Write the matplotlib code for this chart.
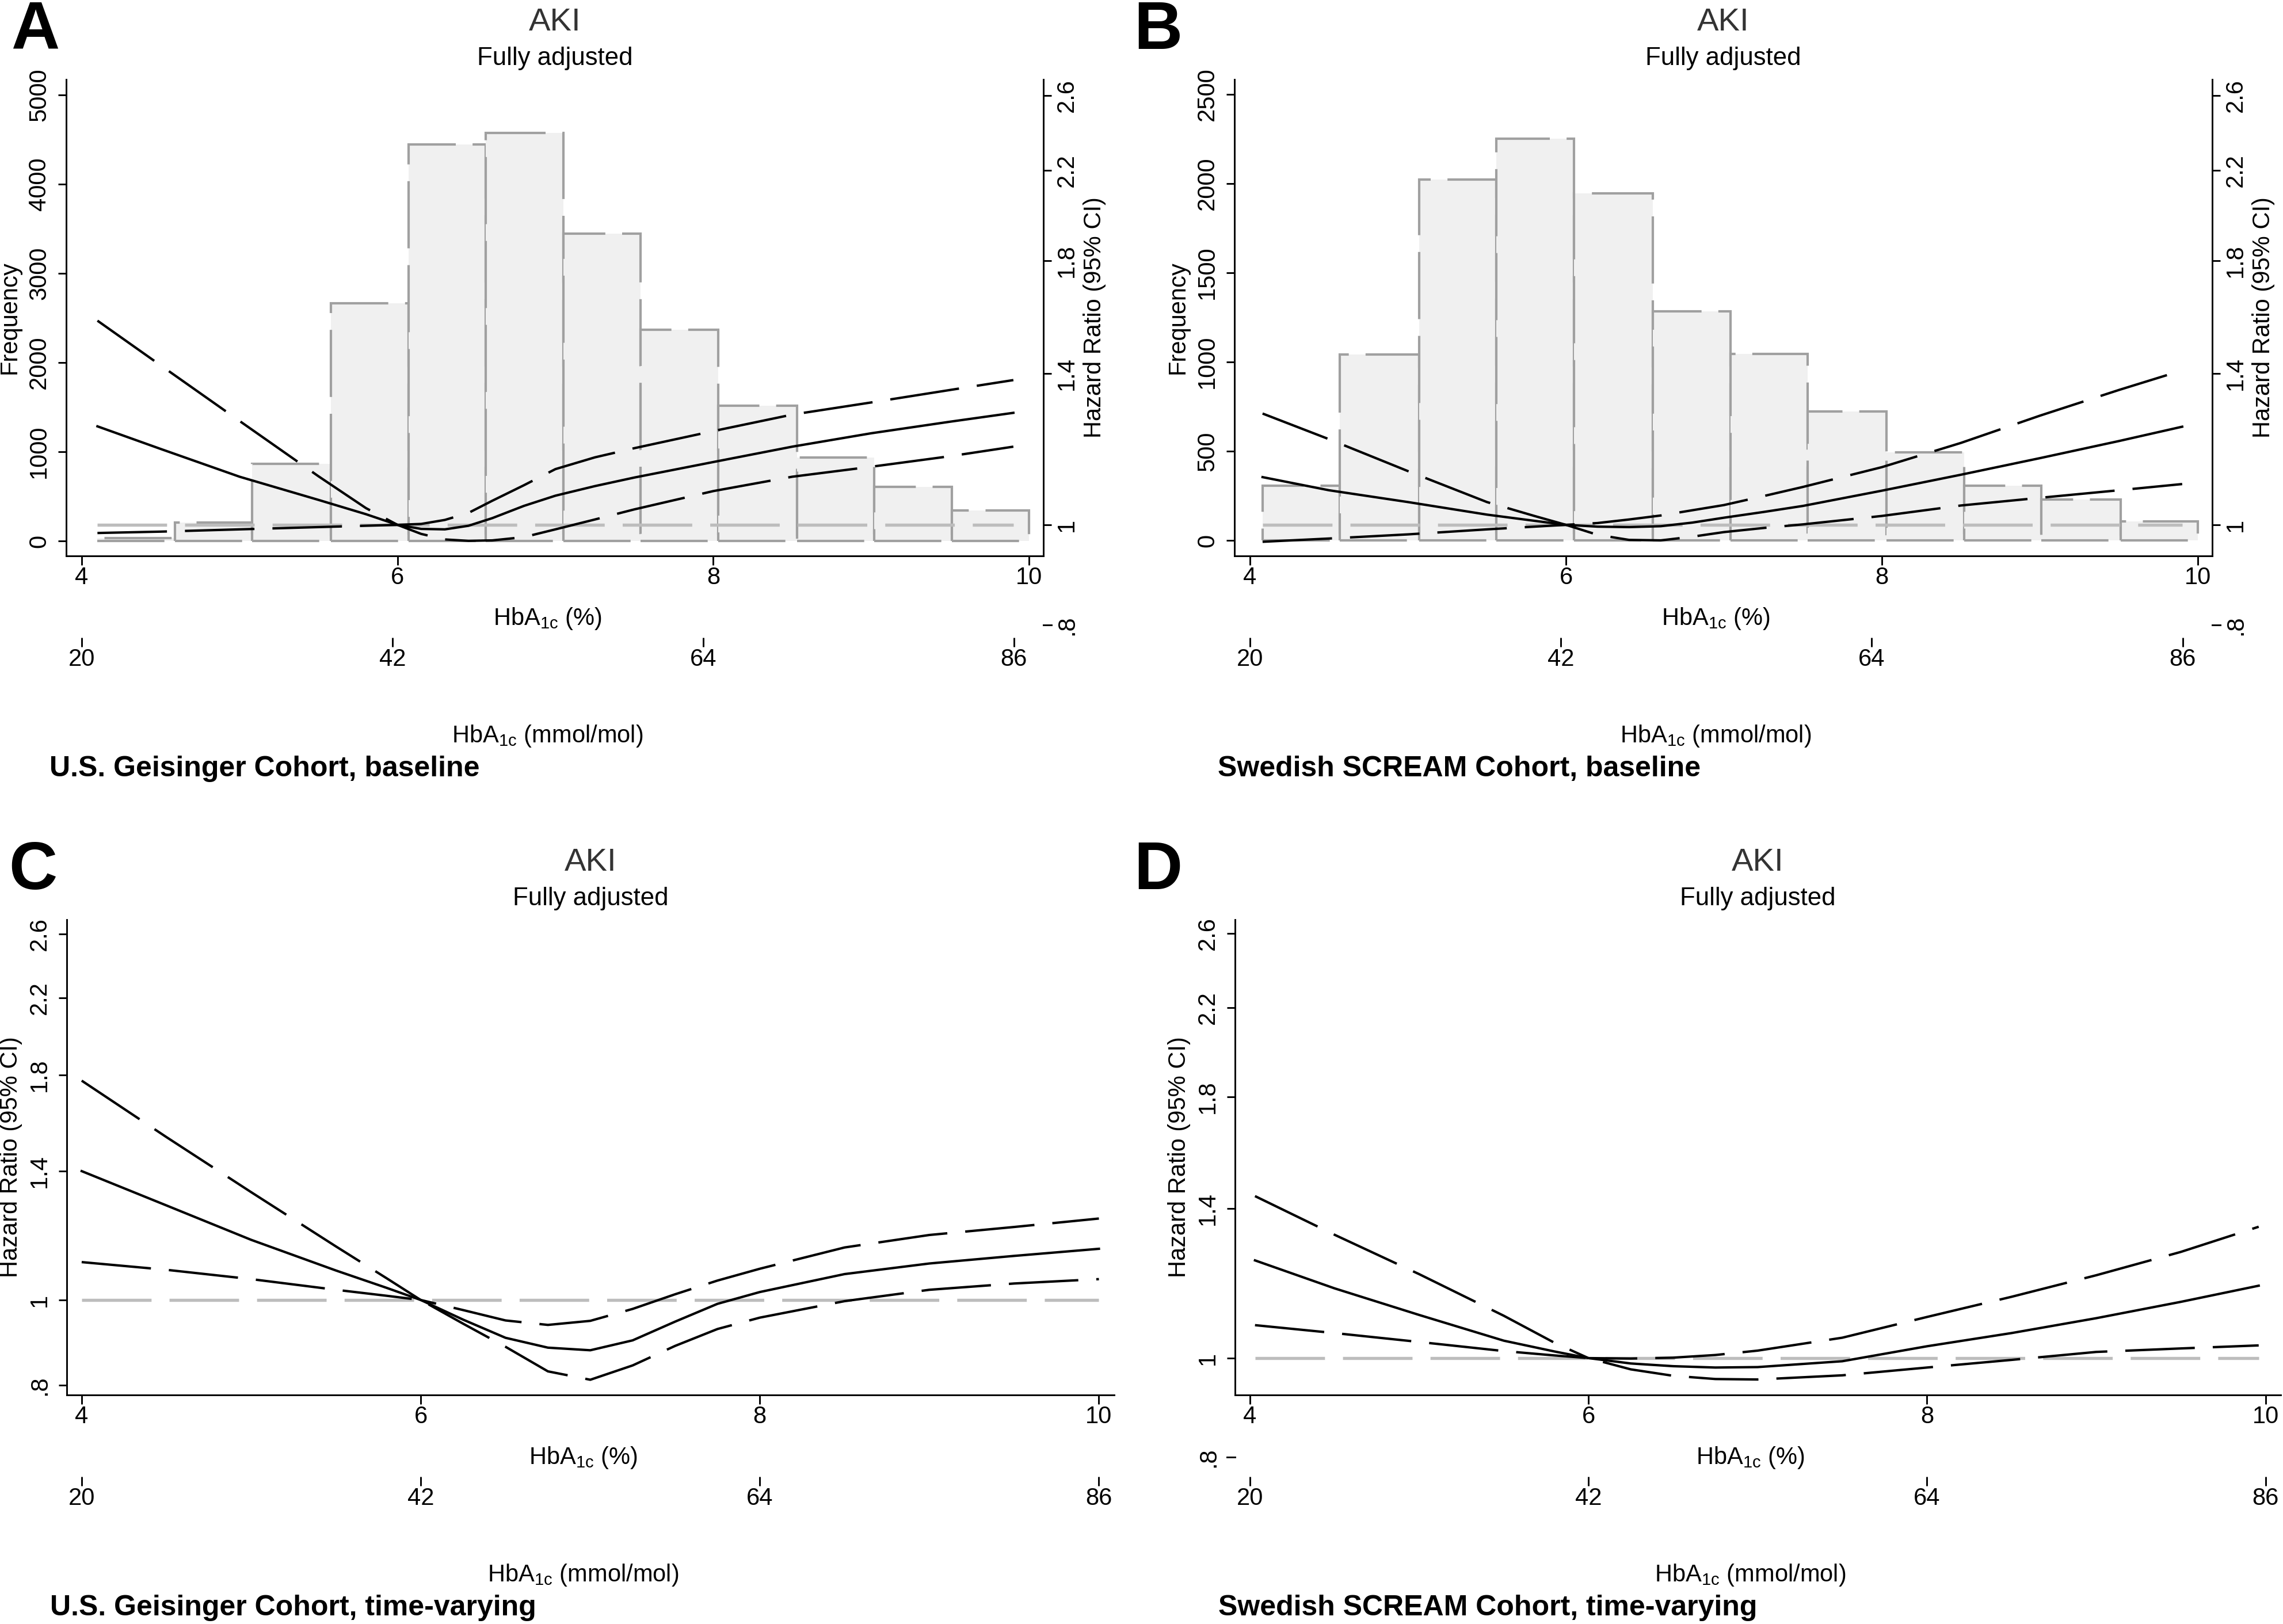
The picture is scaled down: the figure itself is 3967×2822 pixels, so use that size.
import numpy as np
import matplotlib
matplotlib.use('Agg')
import matplotlib.pyplot as plt

plt.rcParams['font.family'] = ['Liberation Sans', 'DejaVu Sans']
plt.rcParams['mathtext.default'] = 'regular'
plt.rcParams['lines.scale_dashes'] = False

# ---------------- values ----------------
hr_ticks = [0.8, 1, 1.4, 1.8, 2.2, 2.6]
hr_ticklabels = ['.8', '1', '1.4', '1.8', '2.2', '2.6']
pct_ticks = [4, 6, 8, 10]
mmol_ticks = [20, 42, 64, 86]

# A: U.S. Geisinger Cohort, baseline
a_edges = [4.10, 4.59, 5.08, 5.58, 6.07, 6.56, 7.05, 7.54, 8.03, 8.53, 9.02, 9.51, 10.0]
a_counts = [30, 209, 866, 2665, 4445, 4574, 3445, 2368, 1516, 935, 606, 339]
a_x = [4.1, 4.5, 5.0, 5.5, 5.8, 6.0, 6.15, 6.3, 6.45, 6.6, 6.8, 7.0, 7.25, 7.5, 8.0, 8.5, 9.0, 9.5, 9.9]
a_hr = [1.245, 1.184, 1.113, 1.057, 1.024, 1.0, 0.991, 0.99, 0.998, 1.015, 1.043, 1.067, 1.09, 1.111, 1.15, 1.19, 1.226, 1.258, 1.283]
a_hi = [1.575, 1.426, 1.26, 1.114, 1.038, 1.0, 1.002, 1.011, 1.027, 1.055, 1.092, 1.132, 1.162, 1.186, 1.232, 1.278, 1.313, 1.35, 1.38]
a_lo = [0.982, 0.985, 0.99, 0.995, 0.998, 1.0, 0.98, 0.968, 0.965, 0.966, 0.973, 0.99, 1.012, 1.035, 1.078, 1.113, 1.138, 1.165, 1.19]

# B: Swedish SCREAM Cohort, baseline
b_edges = [4.08, 4.57, 5.07, 5.56, 6.05, 6.55, 7.04, 7.53, 8.03, 8.52, 9.01, 9.51, 10.0]
b_counts = [306, 1042, 2023, 2253, 1945, 1285, 1045, 723, 494, 306, 229, 106]
b_x = [4.08, 4.5, 5.0, 5.5, 5.8, 6.0, 6.2, 6.4, 6.6, 6.8, 7.0, 7.25, 7.5, 8.0, 8.5, 9.0, 9.5, 9.9]
b_hr = [1.112, 1.08, 1.052, 1.023, 1.009, 1.0, 0.996, 0.995, 0.997, 1.005, 1.016, 1.029, 1.043, 1.079, 1.118, 1.16, 1.205, 1.244]
b_hi = [1.281, 1.21, 1.127, 1.052, 1.02, 1.0, 1.004, 1.012, 1.021, 1.033, 1.045, 1.066, 1.088, 1.137, 1.2, 1.275, 1.35, 1.41]
b_lo = [0.963, 0.97, 0.979, 0.99, 0.996, 1.0, 0.978, 0.967, 0.966, 0.974, 0.984, 0.993, 1.001, 1.02, 1.044, 1.062, 1.08, 1.095]

# C: U.S. Geisinger Cohort, time-varying
c_x = [4.0, 4.5, 5.0, 5.5, 5.8, 6.0, 6.25, 6.5, 6.75, 7.0, 7.25, 7.5, 7.75, 8.0, 8.5, 9.0, 9.5, 10.0]
c_hr = [1.40, 1.28, 1.17, 1.08, 1.032, 1.0, 0.95, 0.906, 0.883, 0.877, 0.9, 0.945, 0.99, 1.021, 1.07, 1.10, 1.122, 1.143]
c_hi = [1.773, 1.53, 1.325, 1.15, 1.058, 1.0, 0.974, 0.948, 0.937, 0.947, 0.977, 1.015, 1.052, 1.085, 1.147, 1.185, 1.21, 1.237]
c_lo = [1.104, 1.082, 1.056, 1.027, 1.011, 1.0, 0.94, 0.885, 0.83, 0.812, 0.843, 0.887, 0.927, 0.955, 0.997, 1.027, 1.044, 1.056]

# D: Swedish SCREAM Cohort, time-varying
d_x = [4.03, 4.5, 5.0, 5.5, 5.8, 6.0, 6.25, 6.5, 6.75, 7.0, 7.5, 8.0, 8.5, 9.0, 9.5, 9.96]
d_hr = [1.246, 1.17, 1.102, 1.04, 1.015, 1.0, 0.988, 0.982, 0.979, 0.98, 0.993, 1.027, 1.058, 1.094, 1.135, 1.177]
d_hi = [1.44, 1.32, 1.208, 1.10, 1.035, 1.0, 0.999, 1.001, 1.007, 1.017, 1.047, 1.097, 1.148, 1.205, 1.27, 1.344]
d_lo = [1.077, 1.058, 1.037, 1.016, 1.006, 1.0, 0.975, 0.961, 0.954, 0.953, 0.962, 0.979, 0.996, 1.014, 1.022, 1.029]

captions = ['U.S. Geisinger Cohort, baseline', 'Swedish SCREAM Cohort, baseline',
            'U.S. Geisinger Cohort, time-varying', 'Swedish SCREAM Cohort, time-varying']

# ---------------- layout (pixels of the 3967x2822 canvas) ----------------
W, H, DPI = 3967, 2822, 300
fig = plt.figure(figsize=(W / DPI, H / DPI), dpi=DPI)

DASH = (0, (29, 7.5))
TICKLEN_Y = 3.4
TICKLEN_X = 3.8
FS = 10


def rect(l, t, r, b):
    return [l / W, 1 - b / H, (r - l) / W, (b - t) / H]


def ftext(x, y, s, **kw):
    fig.text(x / W, 1 - y / H, s, **kw)


def draw_curves(ax, x, hr, lo, hi):
    ax.plot([x[0], x[-1]], [1, 1], color='#bdbdbd', lw=1.3, ls=DASH, zorder=2)
    ax.plot(x, hi, color='black', lw=1.0, ls=DASH, zorder=3)
    ax.plot(x, lo, color='black', lw=1.0, ls=DASH, zorder=3)
    ax.plot(x, hr, color='black', lw=1.0, zorder=3)


def setup_x(ax, xlim, hpx, scale):
    ax.set_xticks(pct_ticks)
    ax.set_xlim(*xlim)
    ax.tick_params(axis='x', length=TICKLEN_X, width=0.7, pad=0.5, labelsize=FS)
    sec = ax.secondary_xaxis(-142 / hpx, functions=(lambda p: 20 + scale * (p - 4),
                                                    lambda m: 4 + (m - 20) / scale))
    sec.set_xticks(mmol_ticks)
    sec.spines['bottom'].set_visible(False)
    sec.tick_params(axis='x', length=TICKLEN_X, width=0.7, pad=0.5, labelsize=FS)


def setup_hr(ax, ylim, side, wpx):
    ax.set_yscale('log')
    ax.set_yticks(hr_ticks, hr_ticklabels)
    ax.minorticks_off()
    ax.set_ylim(*ylim)
    pad = 1.7 if side == 'right' else 3.0
    ax.tick_params(axis='y', length=TICKLEN_Y, width=0.7, labelsize=FS, labelrotation=90, pad=pad)
    for lab in ax.get_yticklabels():
        lab.set_va('center')
    # Stata draws ticks that fall outside the plot region too
    lo, hi = ax.get_ylim()
    tr = ax.get_yaxis_transform()
    t = 14 / wpx
    for v, s in zip(hr_ticks, hr_ticklabels):
        if lo <= v <= hi:
            continue
        if side == 'right':
            ax.plot([1, 1 + t], [v, v], transform=tr, color='black', lw=0.7, clip_on=False)
            ax.text(1 + 21 / wpx, v, s, transform=tr, rotation=90, ha='left', va='center',
                    fontsize=FS, clip_on=False)
        else:
            ax.plot([-t, 0], [v, v], transform=tr, color='black', lw=0.7, clip_on=False)
            ax.text(-26 / wpx, v, s, transform=tr, rotation=90, ha='right', va='center',
                    fontsize=FS, clip_on=False)
    ax.set_ylim(*ylim)


def labels(l, t, r, b, letter, letter_x, caption):
    cx = (l + r) / 2
    mid = (t + b) / 2
    ftext(letter_x, t - 53 if t > 500 else 85, letter, fontsize=28, fontweight='bold',
          ha='left', va='baseline')
    ftext(cx, t - 85, 'AKI', fontsize=13.5, color='#333333', ha='center', va='baseline')
    ftext(cx, t - 25, 'Fully adjusted', fontsize=10.5, ha='center', va='baseline')
    ftext(cx - 13, b + 109, 'HbA$_{1c}$ (%)', fontsize=FS, ha='center', va='center')
    ftext(cx - 13, b + 313, 'HbA$_{1c}$ (mmol/mol)', fontsize=FS, ha='center', va='center')
    ftext(l - 29, b + 370, caption, fontsize=12, fontweight='bold', ha='left', va='center')
    return mid


# ---------------- top row: histogram + HR ----------------
top_panels = [
    ((115, 138, 1813, 966), a_edges, a_counts, [0, 1000, 2000, 3000, 4000, 5000], (-168, 5174),
     a_x, a_hr, a_lo, a_hi, 'A', 19, captions[0]),
    ((2145, 138, 3844, 966), b_edges, b_counts, [0, 500, 1000, 1500, 2000, 2500], (-87, 2584),
     b_x, b_hr, b_lo, b_hi, 'B', 1970, captions[1]),
]
for (l, t, r, b), edges, counts, fticks, flim, x, hr, lo, hi, letter, lx, cap in top_panels:
    ax = fig.add_axes(rect(l, t, r, b))
    wpx, hpx = r - l, b - t
    edges = np.array(edges)
    ax.bar(edges[:-1], counts, width=np.diff(edges), align='edge', color='#f0f0f0',
           edgecolor='#a0a0a0', linewidth=1.0, linestyle=(0, (28, 7)), zorder=1)
    ax.set_yticks(fticks)
    ax.set_ylim(*flim)
    ax.tick_params(axis='y', length=TICKLEN_Y, width=0.7, labelsize=FS, labelrotation=90, pad=3.0)
    for lab in ax.get_yticklabels():
        lab.set_va('center')
    setup_x(ax, (3.902, 10.09), hpx, 11.18)
    ax.spines['top'].set_visible(False)
    ax.spines['right'].set_visible(False)

    axr = ax.twinx()
    for s in ['left', 'top', 'bottom']:
        axr.spines[s].set_visible(False)
    setup_hr(axr, (0.9332, 2.694), 'right', wpx)
    draw_curves(axr, x, hr, lo, hi)
    for a in (ax, axr):
        for sp in a.spines.values():
            sp.set_linewidth(0.7)

    mid = labels(l, t, r, b, letter, lx, cap)
    ftext(l - 98, mid, 'Frequency', fontsize=FS, rotation=90, ha='center', va='center')
    ftext(r + 89, mid, 'Hazard Ratio (95% CI)', fontsize=FS, rotation=90, ha='center', va='center')

# ---------------- bottom row: HR only ----------------
bottom_panels = [
    ((116, 1598, 1936, 2424), (0.7804, 2.6996), c_x, c_hr, c_lo, c_hi, 'C', 15, captions[2]),
    ((2146, 1598, 3963, 2424), (0.9204, 2.683), d_x, d_hr, d_lo, d_hi, 'D', 1970, captions[3]),
]
for (l, t, r, b), ylim, x, hr, lo, hi, letter, lx, cap in bottom_panels:
    ax = fig.add_axes(rect(l, t, r, b))
    wpx, hpx = r - l, b - t
    setup_hr(ax, ylim, 'left', wpx)
    setup_x(ax, (3.912, 10.09), hpx, 11.0)
    draw_curves(ax, x, hr, lo, hi)
    ax.spines['top'].set_visible(False)
    ax.spines['right'].set_visible(False)
    for sp in ax.spines.values():
        sp.set_linewidth(0.7)
    mid = labels(l, t, r, b, letter, lx, cap)
    ftext(l - 97, mid, 'Hazard Ratio (95% CI)', fontsize=FS, rotation=90, ha='center', va='center')

fig.savefig('out.png', dpi=DPI)
